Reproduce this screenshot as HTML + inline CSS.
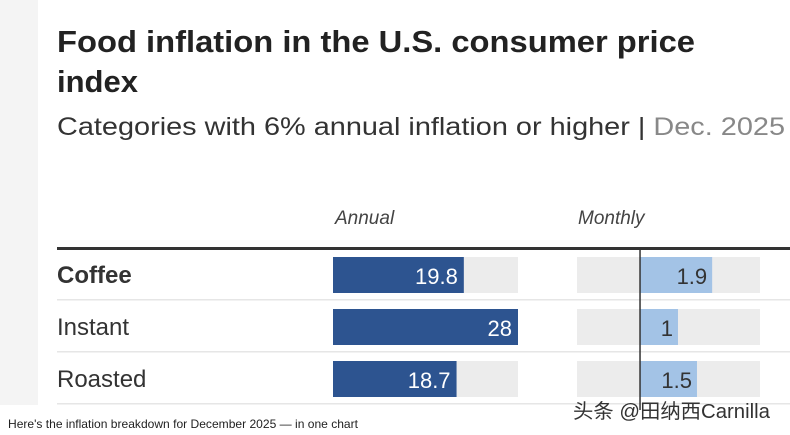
<!DOCTYPE html>
<html><head><meta charset="utf-8"><style>
html,body{margin:0;padding:0;background:#fff;width:790px;height:435px;overflow:hidden}
svg{display:block;font-family:"Liberation Sans",Arial,sans-serif}
</style></head><body>
<svg width="790" height="435" viewBox="0 0 790 435">
<rect x="0" y="0" width="38" height="405" fill="#f4f4f4"/>
<text x="57" y="52" font-size="31" font-weight="bold" fill="#222" textLength="638" lengthAdjust="spacingAndGlyphs">Food inflation in the U.S. consumer price</text>
<text x="57" y="92" font-size="31" font-weight="bold" fill="#222">index</text>
<text x="57" y="135" font-size="25" fill="#333" textLength="728" lengthAdjust="spacingAndGlyphs">Categories with 6% annual inflation or higher | <tspan fill="#888">Dec. 2025</tspan></text>
<text x="335" y="224" font-size="19" font-style="italic" fill="#444">Annual</text>
<text x="578" y="224" font-size="19" font-style="italic" fill="#444">Monthly</text>
<rect x="57" y="247" width="733" height="3" fill="#333"/>
<g id="rows"></g>
<text x="8" y="428" font-size="12" fill="#222" textLength="350" lengthAdjust="spacingAndGlyphs">Here's the inflation breakdown for December 2025 — in one chart</text>
<text x="573" y="418" font-size="20" fill="#333" textLength="197" lengthAdjust="spacingAndGlyphs" font-family="'Liberation Sans','Noto Sans CJK SC',sans-serif">头条 @田纳西Carnilla</text>
</svg>
<script>
const categories = ["Coffee", "Instant", "Roasted"];
const annualValues = [19.8, 28, 18.7];
const monthlyValues = [1.9, 1, 1.5];
const annualMax = 28;
const monthlyMin = -1.66, monthlyMax = 3.16;

const NS = "http://www.w3.org/2000/svg";
const g = document.getElementById("rows");
const ax0 = 333, ax1 = 518, mx0 = 577, mx1 = 760;
const xA = v => ax0 + (v / annualMax) * (ax1 - ax0);
const xM = v => mx0 + (v - monthlyMin) / (monthlyMax - monthlyMin) * (mx1 - mx0);
function mk(tag, attrs) { const e = document.createElementNS(NS, tag); for (const k in attrs) e.setAttribute(k, attrs[k]); g.appendChild(e); return e; }

categories.forEach((c, i) => {
  const y = 257 + i * 52, h = 36;
  let t = mk("text", {x: 57, y: y + 26, "font-size": 24, fill: "#333", "font-weight": i === 0 ? "bold" : "normal"});
  t.textContent = c;
  
  
  let bg = mk("rect", {x: ax0, y: y, width: ax1 - ax0, height: h, fill: "#ececec"});
  
  
  let b = mk("rect", {x: ax0, y: y, width: xA(annualValues[i]) - ax0, height: h, fill: "#2d5490"});
  
  
  let bt = mk("text", {x: xA(annualValues[i]) - 6, y: y + 27, "font-size": 22, fill: "#fff", "text-anchor": "end"});
  bt.textContent = annualValues[i];
  
  
  let mbg = mk("rect", {x: mx0, y: y, width: mx1 - mx0, height: h, fill: "#ececec"});
  
  
  const z = xM(0), e = xM(monthlyValues[i]);
  let mb = mk("rect", {x: Math.min(z, e), y: y, width: Math.abs(e - z), height: h, fill: "#a3c3e6"});
  
  
  let mt = mk("text", {x: e - 5, y: y + 27, "font-size": 22, fill: "#333", "text-anchor": "end"});
  mt.textContent = monthlyValues[i];
  
  
  let sep = mk("rect", {x: 57, y: y + h + 6, width: 733, height: 1.5, fill: "#e6e6e6"});
  
  
});
const zl = mk("rect", {x: xM(0) - 0.75, y: 250, width: 1.5, height: 160, fill: "#333"});


</script>
</body></html>
